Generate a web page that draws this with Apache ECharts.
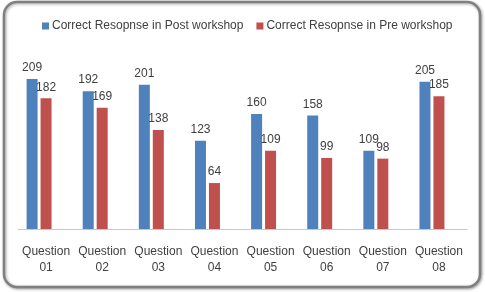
<!DOCTYPE html>
<html>
<head>
<meta charset="utf-8">
<script src="https://cdn.jsdelivr.net/npm/echarts@6/dist/echarts.min.js"></script>
<style>
html,body{margin:0;padding:0;background:#fff;}
#c{width:485px;height:292px;}
</style>
</head>
<body>
<div id="c"></div>
<script>
var categories = ['Question\n01','Question\n02','Question\n03','Question\n04','Question\n05','Question\n06','Question\n07','Question\n08'];
var postValues = [209, 192, 201, 123, 160, 158, 109, 205];
var preValues = [182, 169, 138, 64, 109, 99, 98, 185];
var emptyValues = [null, null, null, null, null, null, null, null];
var seriesNames = ['Correct Resopnse in Post workshop', 'Correct Resopnse in Pre workshop'];

var font = 'Liberation Sans, Arial, sans-serif';
var chart = echarts.init(document.getElementById('c'), null, {renderer: 'canvas'});
chart.setOption({
  animation: false,
  textStyle: {fontFamily: font},
  graphic: [{
    type: 'rect',
    shape: {x: 4, y: 2, width: 476, height: 285, r: 13},
    style: {fill: '#fff', stroke: '#808080', lineWidth: 2.5,
            shadowBlur: 3, shadowOffsetX: 1, shadowOffsetY: 1, shadowColor: 'rgba(0,0,0,0.35)'},
    z: -10, silent: true
  }],
  legend: {
    data: seriesNames,
    top: 15,
    left: 37,
    itemWidth: 7,
    itemHeight: 7,
    itemGap: 13,
    icon: 'rect',
    textStyle: {fontSize: 12, color: '#404040', fontFamily: font, padding: [0,0,0,-2]}
  },
  grid: {left: 18, right: 18, top: 49.5, bottom: 63, containLabel: false},
  xAxis: {
    type: 'category',
    data: categories,
    axisLine: {lineStyle: {color: '#c8c8c8', width: 1}},
    axisTick: {show: false},
    axisLabel: {fontSize: 12, color: '#404040', lineHeight: 16, margin: 15, interval: 0, fontFamily: font}
  },
  yAxis: {
    type: 'value', min: 0, max: 250, interval: 50,
    show: false, splitLine: {show: false}
  },
  series: [
    {name: seriesNames[0], type: 'bar', data: postValues, barWidth: 11, barGap: '27%',
     itemStyle: {color: '#4F81BD'},
     label: {show: true, position: 'top', distance: 5, fontSize: 12, color: '#404040', fontFamily: font}},
    {name: seriesNames[1], type: 'bar', data: preValues, barWidth: 11, barGap: '27%',
     itemStyle: {color: '#C0504D'},
     label: {show: true, position: 'top', distance: 5, fontSize: 12, color: '#404040', fontFamily: font}},
    {name: 'hidden', type: 'bar', data: emptyValues, barWidth: 11, barGap: '27%'}
  ]
});
</script>
</body>
</html>
